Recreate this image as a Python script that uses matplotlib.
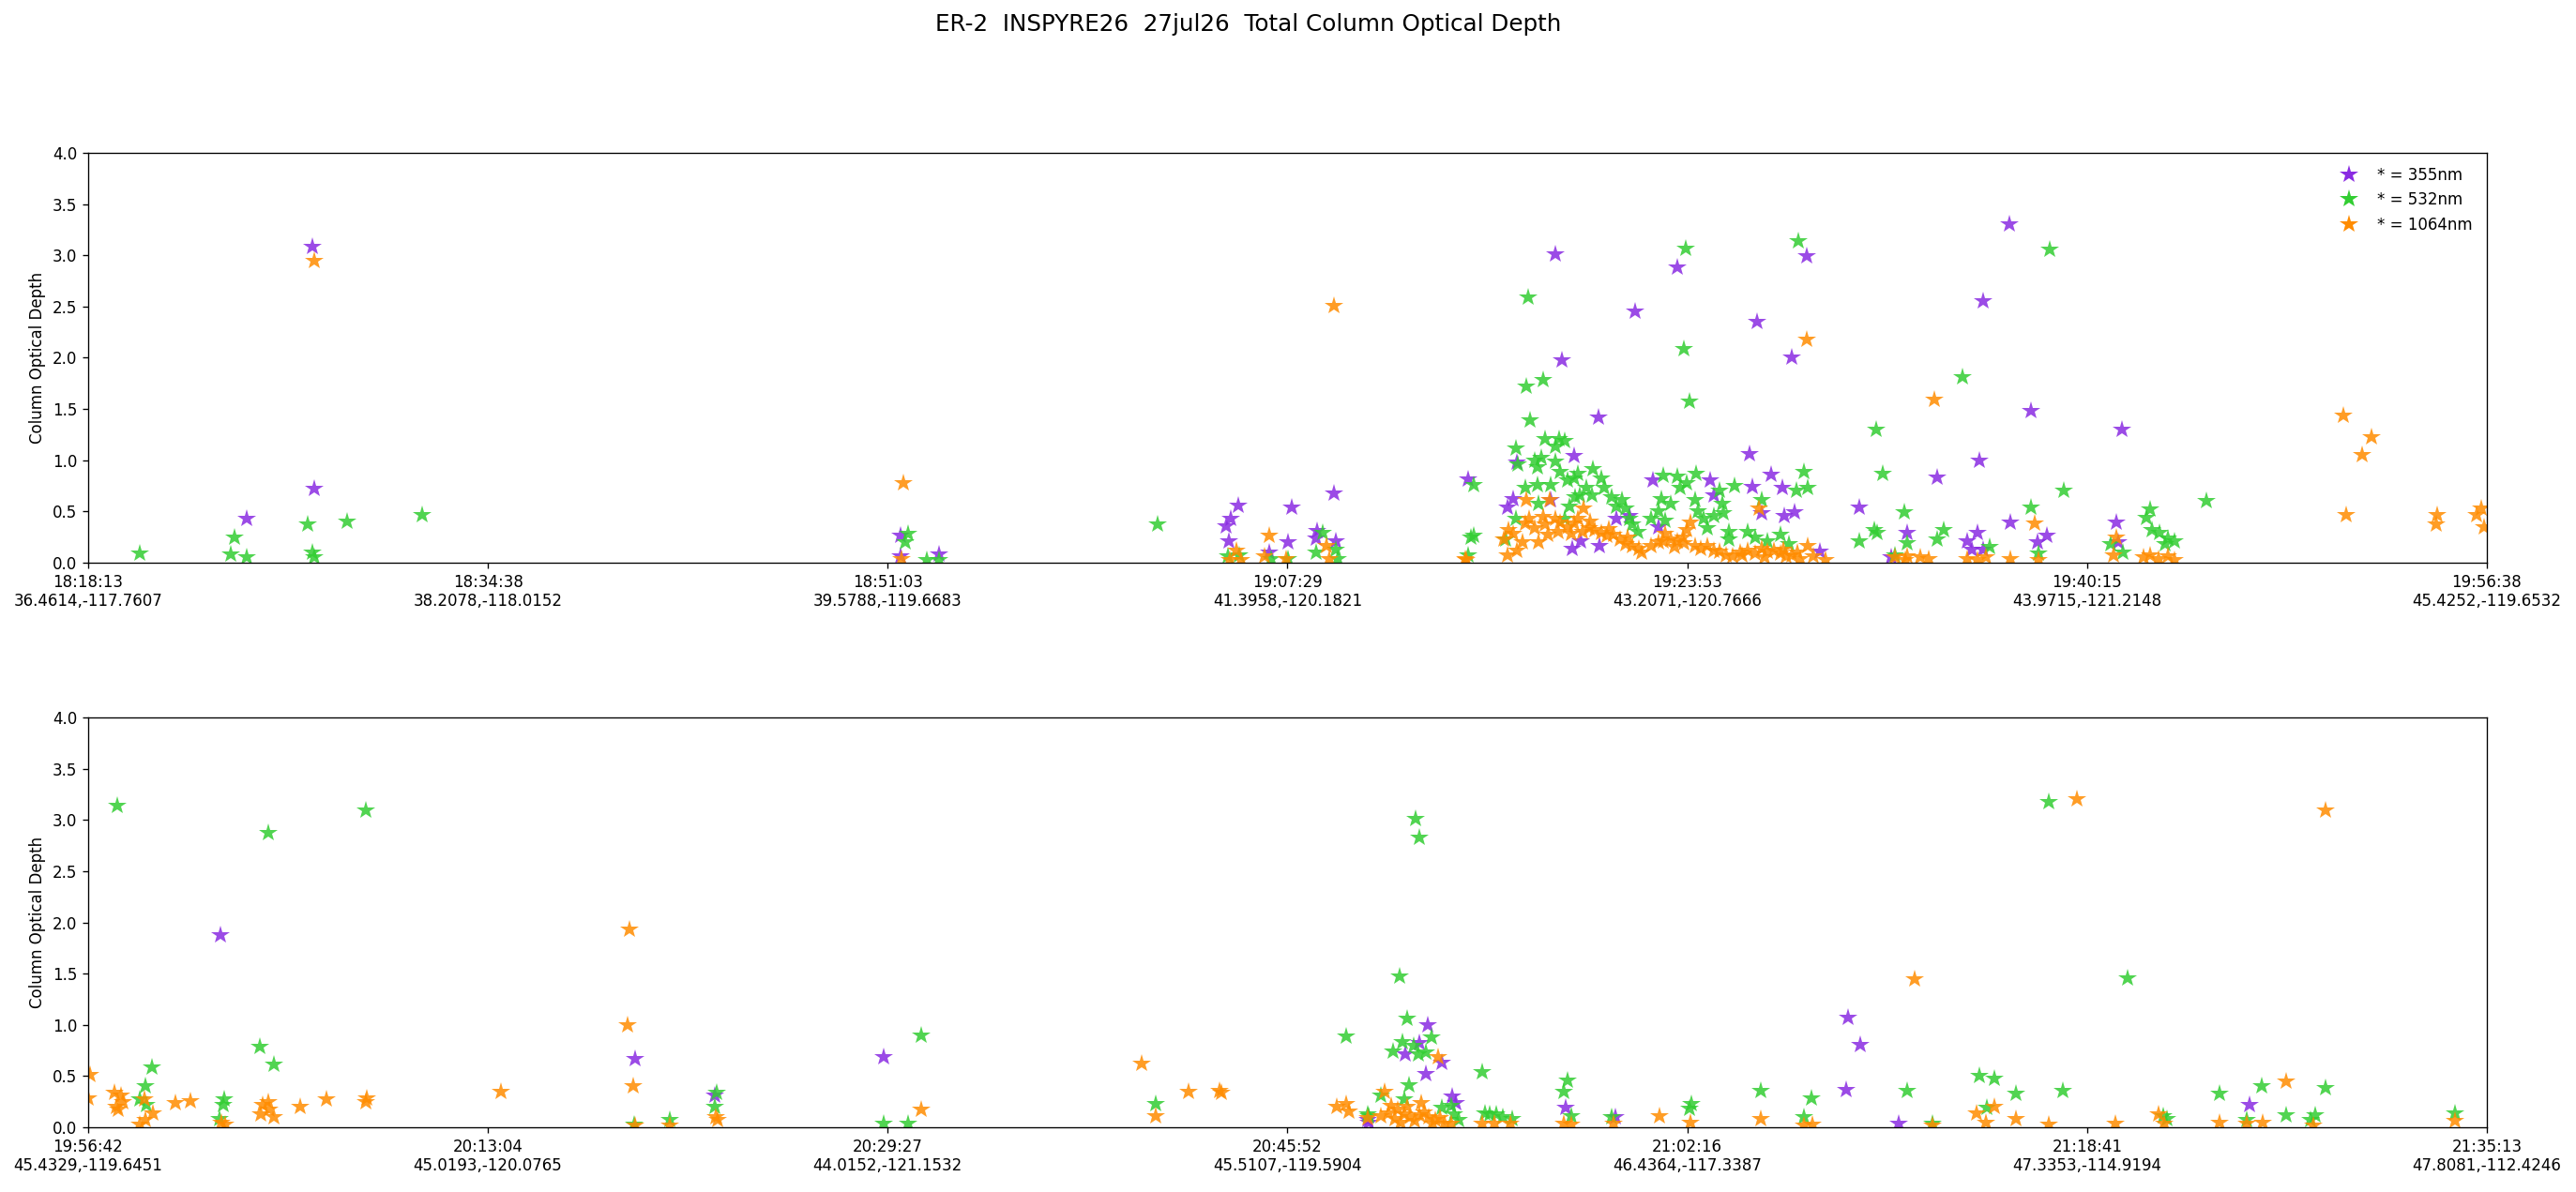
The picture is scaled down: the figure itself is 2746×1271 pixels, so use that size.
import numpy as np
import matplotlib
matplotlib.use("Agg")
import matplotlib.pyplot as plt
from matplotlib.lines import Line2D

# flight leg tick labels (UTC time, lat,lon)
top_times = ["18:18:13", "18:34:38", "18:51:03", "19:07:29", "19:23:53", "19:40:15", "19:56:38"]
top_pos = ["36.4614,-117.7607", "38.2078,-118.0152", "39.5788,-119.6683", "41.3958,-120.1821",
           "43.2071,-120.7666", "43.9715,-121.2148", "45.4252,-119.6532"]
bot_times = ["19:56:42", "20:13:04", "20:29:27", "20:45:52", "21:02:16", "21:18:41", "21:35:13"]
bot_pos = ["45.4329,-119.6451", "45.0193,-120.0765", "44.0152,-121.1532", "45.5107,-119.5904",
           "46.4364,-117.3387", "47.3353,-114.9194", "47.8081,-112.4246"]

# (seconds after leg start, column optical depth)
top_355 = [(390, 0.43), (552, 3.08), (557, 0.72), (2000, 0.26), (2000, 0.06), (2095, 0.08), (2832, 0.56),
           (2814, 0.43), (2802, 0.36), (2809, 0.21), (2908, 0.10), (2964, 0.54), (2954, 0.20), (3068, 0.68),
           (3026, 0.31), (3024, 0.24), (3072, 0.21), (3396, 0.81), (3613, 3.01), (3913, 2.88), (4230, 2.99),
           (3809, 2.45), (4109, 2.35), (3629, 1.98), (4193, 2.00), (3719, 1.42), (3518, 0.98), (3659, 1.04),
           (4089, 1.06), (3853, 0.80), (3994, 0.80), (4144, 0.86), (4098, 0.74), (4170, 0.73), (4003, 0.66),
           (3507, 0.62), (3493, 0.54), (4119, 0.48), (4176, 0.46), (4200, 0.49), (4359, 0.54), (4477, 0.29),
           (3795, 0.46), (3763, 0.43), (3865, 0.35), (3654, 0.14), (3721, 0.16), (3675, 0.21), (3601, 0.61),
           (4264, 0.11), (4438, 0.05), (4729, 3.30), (4664, 2.55), (4782, 1.48), (5006, 1.30), (4655, 1.00),
           (4551, 0.83), (4650, 0.29), (4625, 0.21), (4638, 0.13), (4664, 0.13), (4733, 0.39), (4798, 0.20),
           (4823, 0.26), (4992, 0.39), (4997, 0.20)]

top_532 = [(127, 0.09), (351, 0.08), (360, 0.25), (390, 0.05), (541, 0.37), (552, 0.10), (557, 0.05),
           (638, 0.40), (822, 0.47), (2019, 0.28), (2012, 0.20), (2065, 0.03), (2095, 0.03), (2633, 0.37),
           (2807, 0.06), (2834, 0.07), (2913, 0.04), (2954, 0.04), (3040, 0.29), (3024, 0.10), (3072, 0.13),
           (3077, 0.04), (3405, 0.25), (3934, 3.07), (4209, 3.14), (3544, 2.59), (3929, 2.09), (3541, 1.72),
           (3583, 1.78), (3943, 1.57), (3550, 1.39), (4401, 1.30), (3514, 1.12), (3587, 1.21), (3622, 1.21),
           (3636, 1.19), (3611, 1.13), (3560, 1.00), (3578, 1.02), (3520, 0.96), (3567, 0.93), (3613, 0.99),
           (3624, 0.89), (3657, 0.82), (3668, 0.87), (3705, 0.91), (3726, 0.82), (3641, 0.80), (3687, 0.73),
           (3537, 0.73), (3567, 0.76), (3601, 0.76), (3733, 0.73), (3703, 0.66), (3671, 0.66), (3751, 0.64),
           (3775, 0.61), (3763, 0.55), (3784, 0.53), (3661, 0.64), (3571, 0.58), (3514, 0.43), (3795, 0.43),
           (3802, 0.37), (3814, 0.30), (3636, 0.43), (3647, 0.55), (3410, 0.76), (3412, 0.26), (3398, 0.07),
           (3878, 0.85), (3913, 0.84), (3959, 0.87), (3918, 0.73), (3936, 0.78), (3872, 0.62), (3895, 0.58),
           (3865, 0.50), (3848, 0.43), (3883, 0.41), (3957, 0.61), (3964, 0.50), (3976, 0.43), (4003, 0.46),
           (4015, 0.70), (4022, 0.58), (4026, 0.48), (3987, 0.34), (4040, 0.30), (4038, 0.23), (4054, 0.75),
           (4086, 0.30), (4103, 0.25), (4119, 0.61), (4133, 0.21), (4165, 0.27), (4188, 0.18), (4225, 0.89),
           (4205, 0.70), (4232, 0.73), (4470, 0.49), (4396, 0.32), (4361, 0.21), (4477, 0.19), (4449, 0.07),
           (4417, 0.87), (3490, 0.23), (4828, 3.06), (4615, 1.81), (4863, 0.70), (5214, 0.60), (4403, 0.29),
           (4567, 0.32), (4551, 0.23), (4680, 0.15), (4782, 0.54), (4802, 0.09), (4980, 0.18), (5008, 0.10),
           (5075, 0.52), (5066, 0.44), (5080, 0.32), (5100, 0.29), (5121, 0.24), (5137, 0.21), (5112, 0.18)]

top_1064 = [(557, 2.95), (2007, 0.78), (2003, 0.04), (2827, 0.12), (2811, 0.03), (2839, 0.03), (2908, 0.26),
            (2897, 0.06), (2950, 0.04), (3068, 2.51), (3049, 0.16), (3056, 0.04), (3391, 0.04), (4230, 2.18),
            (4114, 0.53), (3541, 0.61), (3599, 0.61), (3682, 0.53), (3486, 0.23), (3497, 0.32), (3495, 0.07),
            (3518, 0.12), (3530, 0.20), (3548, 0.43), (3560, 0.34), (3571, 0.20), (3587, 0.37), (3594, 0.27),
            (3611, 0.43), (3624, 0.39), (3641, 0.35), (3657, 0.38), (3668, 0.43), (3680, 0.30), (3694, 0.34),
            (3710, 0.32), (3726, 0.29), (3740, 0.26), (3756, 0.27), (3772, 0.23), (3786, 0.18), (3802, 0.16),
            (3818, 0.14), (3848, 0.16), (3865, 0.20), (3878, 0.21), (3895, 0.23), (3911, 0.21), (3925, 0.25),
            (3936, 0.32), (3945, 0.39), (3957, 0.16), (3971, 0.14), (3987, 0.16), (4003, 0.12), (4017, 0.11),
            (4033, 0.07), (4049, 0.06), (4072, 0.07), (4086, 0.12), (4103, 0.09), (4119, 0.14), (4133, 0.11),
            (4149, 0.12), (4165, 0.09), (4179, 0.06), (4195, 0.07), (4234, 0.16), (4248, 0.06), (4276, 0.03),
            (4449, 0.05), (4477, 0.06), (4511, 0.05), (3393, 0.03), (3507, 0.28), (3537, 0.38), (3583, 0.45),
            (3618, 0.30), (3652, 0.28), (3698, 0.40), (3744, 0.33), (3790, 0.25), (3825, 0.10), (3883, 0.28),
            (3906, 0.15), (3929, 0.19), (4067, 0.10), (4126, 0.05), (4172, 0.13), (4207, 0.10), (4214, 0.04),
            (4545, 1.59), (5552, 1.44), (5621, 1.23), (5598, 1.05), (5558, 0.47), (5782, 0.47), (5780, 0.37),
            (5879, 0.47), (5891, 0.53), (5898, 0.35), (4793, 0.38), (4731, 0.04), (4802, 0.03), (4992, 0.25),
            (4987, 0.07), (5059, 0.05), (5077, 0.07), (5096, 0.04), (5119, 0.06), (5137, 0.03), (4474, 0.03),
            (4530, 0.04), (4625, 0.04), (4650, 0.03), (4671, 0.05)]

bot_355 = [(326, 1.88), (1348, 0.67), (1544, 0.31), (1960, 0.69), (3155, 0.05), (3301, 1.00), (3280, 0.82),
           (3246, 0.71), (3336, 0.63), (3296, 0.52), (3153, 0.07), (3361, 0.30), (3370, 0.24), (3641, 0.19),
           (3764, 0.10), (4337, 1.07), (4367, 0.81), (4332, 0.37), (4462, 0.04), (5326, 0.22)]

bot_532 = [(72, 3.14), (444, 2.87), (684, 3.09), (423, 0.79), (458, 0.61), (157, 0.59), (141, 0.40),
           (127, 0.27), (143, 0.22), (335, 0.27), (333, 0.22), (324, 0.08), (1345, 0.03), (1433, 0.07),
           (1549, 0.34), (1544, 0.20), (1960, 0.04), (2020, 0.04), (2053, 0.90), (2631, 0.23), (3100, 0.89),
           (3155, 0.11), (3186, 0.31), (3232, 1.47), (3271, 3.01), (3280, 2.83), (3250, 1.06), (3310, 0.88),
           (3239, 0.83), (3216, 0.74), (3266, 0.80), (3278, 0.71), (3296, 0.73), (3435, 0.54), (3255, 0.41),
           (3153, 0.13), (3243, 0.27), (3336, 0.19), (3359, 0.21), (3366, 0.13), (3377, 0.07), (3442, 0.14),
           (3454, 0.13), (3470, 0.13), (3486, 0.10), (3509, 0.08), (3646, 0.46), (3636, 0.35), (3655, 0.11),
           (3754, 0.10), (3951, 0.23), (3946, 0.18), (4122, 0.36), (4247, 0.28), (4228, 0.10), (4482, 0.36),
           (4545, 0.04), (4660, 0.50), (4697, 0.48), (4751, 0.33), (4679, 0.19), (4831, 3.18), (4866, 0.36),
           (5026, 1.46), (5113, 0.11), (5123, 0.08), (5252, 0.33), (5319, 0.07), (5356, 0.40), (5416, 0.12),
           (5488, 0.12), (5476, 0.07), (5513, 0.38), (5832, 0.14)]

bot_1064 = [(5, 0.51), (0, 0.28), (65, 0.34), (81, 0.31), (86, 0.25), (69, 0.20), (74, 0.17), (139, 0.27),
            (160, 0.14), (141, 0.07), (127, 0.03), (215, 0.24), (252, 0.26), (328, 0.05), (338, 0.03),
            (425, 0.13), (430, 0.22), (444, 0.25), (446, 0.17), (458, 0.10), (522, 0.20), (587, 0.27),
            (684, 0.25), (687, 0.28), (1017, 0.35), (1334, 1.93), (1329, 1.00), (1343, 0.40), (1348, 0.02),
            (1433, 0.02), (1547, 0.10), (1551, 0.07), (2053, 0.17), (2596, 0.62), (2631, 0.11), (2712, 0.35),
            (2788, 0.36), (2793, 0.34), (3077, 0.20), (3100, 0.23), (3107, 0.16), (3186, 0.11), (3195, 0.35),
            (3327, 0.69), (3153, 0.09), (3211, 0.21), (3227, 0.17), (3243, 0.13), (3257, 0.10), (3285, 0.24),
            (3280, 0.12), (3303, 0.10), (3320, 0.07), (3343, 0.04), (3359, 0.04), (3435, 0.04), (3465, 0.04),
            (3505, 0.04), (3636, 0.04), (3655, 0.03), (3759, 0.04), (3872, 0.11), (3948, 0.05), (4122, 0.08),
            (4228, 0.02), (4249, 0.03), (4501, 1.45), (4545, 0.02), (4653, 0.14), (4697, 0.20), (4677, 0.05),
            (4751, 0.08), (4831, 0.03), (4901, 3.20), (4996, 0.04), (5102, 0.13), (5116, 0.04), (5252, 0.05),
            (5319, 0.04), (5358, 0.05), (5416, 0.45), (5483, 0.02), (5513, 3.09), (5832, 0.06), (3220, 0.08),
            (3234, 0.05), (3269, 0.06), (3292, 0.15), (3313, 0.04), (3331, 0.09), (3250, 0.20), (3204, 0.14)]

wavelengths = ["355nm", "532nm", "1064nm"]
colors = ["#8a2be2", "#32cd32", "#ff8c00"]


def to_sec(hms):
    h, m, s = (int(p) for p in hms.split(":"))
    return h * 3600 + m * 60 + s


def draw_leg(ax, series, times, positions):
    duration = to_sec(times[-1]) - to_sec(times[0])
    for pts, c in zip(series, colors):
        t = [p[0] for p in pts]
        v = [p[1] for p in pts]
        ax.plot(t, v, linestyle="none", marker="*", ms=12, color=c, alpha=0.85, mew=0)
    ax.set_xlim(0, duration)
    ax.set_ylim(0, 4)
    ax.set_xticks(np.linspace(0, duration, len(times)))
    ax.set_xticklabels([f"{tm}\n{ps}" for tm, ps in zip(times, positions)])
    ax.set_ylabel("Column Optical Depth")


fig = plt.figure(figsize=(2746 / 120, 1271 / 120), dpi=120)
ax1, ax2 = fig.subplots(2, 1)
fig.subplots_adjust(left=0.0342, right=0.9654, top=0.8718, bottom=0.0543, hspace=0.378)

draw_leg(ax1, [top_355, top_532, top_1064], top_times, top_pos)
draw_leg(ax2, [bot_355, bot_532, bot_1064], bot_times, bot_pos)

handles = [Line2D([], [], linestyle="none", marker="*", ms=12, color=c, mew=0) for c in colors]
ax1.legend(handles, [f"* = {w}" for w in wavelengths], loc="upper right", frameon=False)

fig.suptitle("ER-2  INSPYRE26  27jul26  Total Column Optical Depth", fontsize=14.8, x=0.4847, y=0.989)

fig.savefig("out.png", dpi=120)
